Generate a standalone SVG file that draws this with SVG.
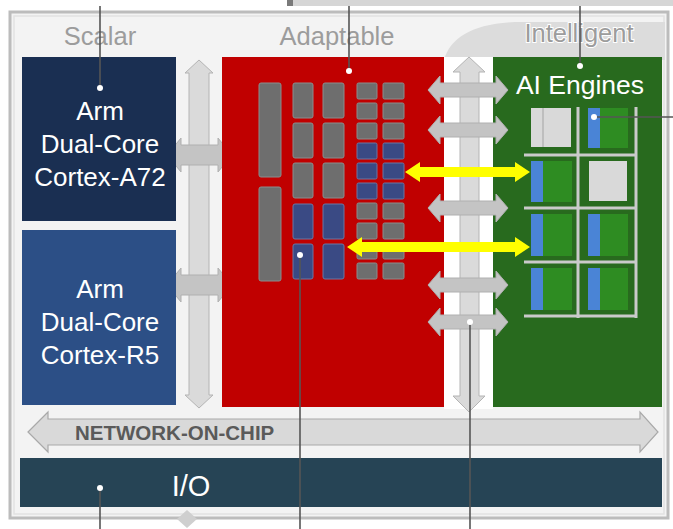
<svg xmlns="http://www.w3.org/2000/svg" width="673" height="529" viewBox="0 0 673 529">
<defs>
<style>
.hdr{font-family:"Liberation Sans",Arial,sans-serif;font-size:25.5px;fill:#9c9c9c;text-anchor:middle}
.wt{font-family:"Liberation Sans",Arial,sans-serif;font-size:26px;fill:#ffffff;text-anchor:middle}
.gt{fill:#6e6e6e;stroke:#8c8c8c;stroke-width:1}
.bt{fill:#3a4a84;stroke:#6b77a3;stroke-width:1}
.ga{fill:#c4c4c4;stroke:#b0b0b0;stroke-width:1}
.va{fill:#dadada;stroke:#b4b4b4;stroke-width:1}
.ya{fill:#ffff00}
.grid{stroke:#cacaca;stroke-width:3;fill:none}
.blue{fill:#4a84d6}
.gtile{fill:#2e8c22}
.ltile{fill:#d9d9d9}
.call{stroke:#555555;stroke-width:1.6;fill:none}
.dot{fill:#ffffff}
</style>
</defs>
<rect x="0" y="0" width="673" height="529" fill="#ffffff"/>
<rect x="290" y="0" width="383" height="6" fill="#d6d6d6"/>
<rect x="287" y="0" width="6" height="6" fill="#7a7a7a"/>
<!-- frame -->
<rect x="10" y="12" width="658" height="506" fill="#f3f3f3" stroke="#bcbcbc" stroke-width="3"/>
<rect x="14" y="16" width="650" height="498" fill="none" stroke="#e2e2e2" stroke-width="1.5"/>
<path d="M444,60 C450,38 472,24 515,22 L665,22 L665,60 Z" fill="#dcdcdc"/>
<rect x="444" y="57" width="49" height="352" fill="#ffffff"/>
<!-- headers -->
<text class="hdr" x="100" y="45">Scalar</text>
<text class="hdr" x="337" y="45">Adaptable</text>
<text class="hdr" x="579" y="42" style="stroke:#ffffff;stroke-width:2;paint-order:stroke">Intelligent</text>

<g id="connectors">
<polygon class="va" points="199,60 213,73 209,73 209,395 213,395 199,408 185,395 189,395 189,73 185,73"/>
<polygon class="ga" points="167,155 181,138 181,145 218,145 218,138 232,155 218,172 218,165 181,165 181,172"/>
<polygon class="ga" points="167,285 181,268 181,275 218,275 218,268 232,285 218,302 218,295 181,295 181,302"/>
</g>

<g id="a72">
<rect x="22" y="57" width="154" height="164" fill="#1a2f52"/>
<text class="wt" x="100" y="120">Arm</text>
<text class="wt" x="100" y="153">Dual-Core</text>
<text class="wt" x="100" y="186">Cortex-A72</text>
</g>
<g id="r5">
<rect x="22" y="230" width="154" height="175" fill="#2c4f86"/>
<text class="wt" x="100" y="298">Arm</text>
<text class="wt" x="100" y="331">Dual-Core</text>
<text class="wt" x="100" y="364">Cortex-R5</text>
</g>

<g id="adaptable">
<rect x="222" y="57" width="222" height="350" fill="#c00000"/>
<rect class="gt" x="259" y="83" width="22" height="94" rx="2"/>
<rect class="gt" x="259" y="187" width="22" height="94" rx="2"/>
<rect class="gt" x="293" y="83" width="20" height="35" rx="2"/>
<rect class="gt" x="293" y="123" width="20" height="35" rx="2"/>
<rect class="gt" x="293" y="163" width="20" height="35" rx="2"/>
<rect class="bt" x="293" y="204" width="20" height="35" rx="2"/>
<rect class="bt" x="293" y="244" width="20" height="35" rx="2"/>
<rect class="gt" x="323" y="83" width="21" height="35" rx="2"/>
<rect class="gt" x="323" y="123" width="21" height="35" rx="2"/>
<rect class="gt" x="323" y="163" width="21" height="35" rx="2"/>
<rect class="bt" x="323" y="204" width="21" height="35" rx="2"/>
<rect class="bt" x="323" y="244" width="21" height="35" rx="2"/>
<rect class="gt" x="357" y="83" width="20" height="16" rx="1.5"/>
<rect class="gt" x="357" y="103" width="20" height="16" rx="1.5"/>
<rect class="gt" x="357" y="123" width="20" height="16" rx="1.5"/>
<rect class="bt" x="357" y="143" width="20" height="16" rx="1.5"/>
<rect class="bt" x="357" y="163" width="20" height="16" rx="1.5"/>
<rect class="bt" x="357" y="183" width="20" height="16" rx="1.5"/>
<rect class="gt" x="357" y="203" width="20" height="16" rx="1.5"/>
<rect class="gt" x="357" y="223" width="20" height="16" rx="1.5"/>
<rect class="gt" x="357" y="243" width="20" height="16" rx="1.5"/>
<rect class="gt" x="357" y="263" width="20" height="16" rx="1.5"/>
<rect class="gt" x="383" y="83" width="21" height="16" rx="1.5"/>
<rect class="gt" x="383" y="103" width="21" height="16" rx="1.5"/>
<rect class="gt" x="383" y="123" width="21" height="16" rx="1.5"/>
<rect class="bt" x="383" y="143" width="21" height="16" rx="1.5"/>
<rect class="bt" x="383" y="163" width="21" height="16" rx="1.5"/>
<rect class="bt" x="383" y="183" width="21" height="16" rx="1.5"/>
<rect class="gt" x="383" y="203" width="21" height="16" rx="1.5"/>
<rect class="gt" x="383" y="223" width="21" height="16" rx="1.5"/>
<rect class="gt" x="383" y="243" width="21" height="16" rx="1.5"/>
<rect class="gt" x="383" y="263" width="21" height="16" rx="1.5"/>
</g>

<g id="ai-engines">
<rect x="493" y="57" width="169" height="350" fill="#286a1e"/>
<text class="wt" x="580" y="94" style="font-size:26.5px">AI Engines</text>
<rect class="ltile" x="531" y="108" width="40" height="39"/>
<line x1="543" y1="108" x2="543" y2="147" stroke="#b5b5b5" stroke-width="1.5"/>
<rect class="gtile" x="588" y="108" width="40" height="40"/>
<rect class="blue" x="588" y="108" width="12" height="40"/>
<rect class="gtile" x="531" y="161" width="41" height="41"/>
<rect class="blue" x="531" y="161" width="12" height="41"/>
<rect class="ltile" x="589" y="161" width="38" height="40"/>
<rect class="gtile" x="531" y="214" width="41" height="42"/>
<rect class="blue" x="531" y="214" width="12" height="42"/>
<rect class="gtile" x="588" y="214" width="40" height="42"/>
<rect class="blue" x="588" y="214" width="12" height="42"/>
<rect class="gtile" x="531" y="268" width="41" height="42"/>
<rect class="blue" x="531" y="268" width="12" height="42"/>
<rect class="gtile" x="588" y="268" width="40" height="42"/>
<rect class="blue" x="588" y="268" width="12" height="42"/>
<path class="grid" d="M578,107 V318 M636,107 V318 M524,155 H636 M524,208 H636 M524,262 H636 M524,316 H636"/>
</g>

<g id="connectors-mid">
<polygon class="va" points="469,57 485,72 479,72 479,396 485,396 469,412 453,396 460,396 460,72 453,72"/>
<polygon class="ga" points="428,90 440,76 440,83 496,83 496,76 508,90 496,104 496,97 440,97 440,104"/>
<polygon class="ga" points="428,130 440,116 440,123 496,123 496,116 508,130 496,144 496,137 440,137 440,144"/>
<polygon class="ga" points="428,208 440,194 440,201 496,201 496,194 508,208 496,222 496,215 440,215 440,222"/>
<polygon class="ga" points="428,285 440,271 440,278 496,278 496,271 508,285 496,299 496,292 440,292 440,299"/>
<polygon class="ga" points="428,322 440,308 440,315 496,315 496,308 508,322 496,336 496,329 440,329 440,336"/>
<polygon class="ya" points="405,172 420,162 420,167 515,167 515,162 530,172 515,182 515,177 420,177 420,182"/>
<polygon class="ya" points="347,247 362,237 362,242 515,242 515,237 530,247 515,257 515,252 362,252 362,257"/>
</g>

<g id="noc">
<polygon fill="#d9d9d9" stroke="#a9a9a9" stroke-width="1.2" points="28,432 48,412 48,419 640,419 640,412 658,432 640,452 640,445 48,445 48,452"/>
<text x="75" y="440" style="font-family:'Liberation Sans',Arial,sans-serif;font-size:20.5px;font-weight:bold;fill:#5a5a5a">NETWORK-ON-CHIP</text>
</g>

<g id="io">
<rect x="20" y="458" width="642" height="49" fill="#264455"/>
<text class="wt" x="191" y="496" style="font-size:29px">I/O</text>
</g>
<polygon points="187,510 197,519 187,528 177,519" fill="#cfcfcf"/>

<g id="callouts">
<path class="call" d="M100,6 V88 M349,6 V71 M580,6 V66 M594,117 H673 M100,488 V529 M300,255 V529 M470,322 V529"/>
<circle class="dot" cx="100" cy="88" r="3"/>
<circle class="dot" cx="349" cy="71" r="3"/>
<circle class="dot" cx="580" cy="66" r="3"/>
<circle class="dot" cx="594" cy="117" r="3"/>
<circle class="dot" cx="100" cy="488" r="3"/>
<circle class="dot" cx="300" cy="255" r="3"/>
<circle class="dot" cx="470" cy="322" r="3"/>
</g>
</svg>
